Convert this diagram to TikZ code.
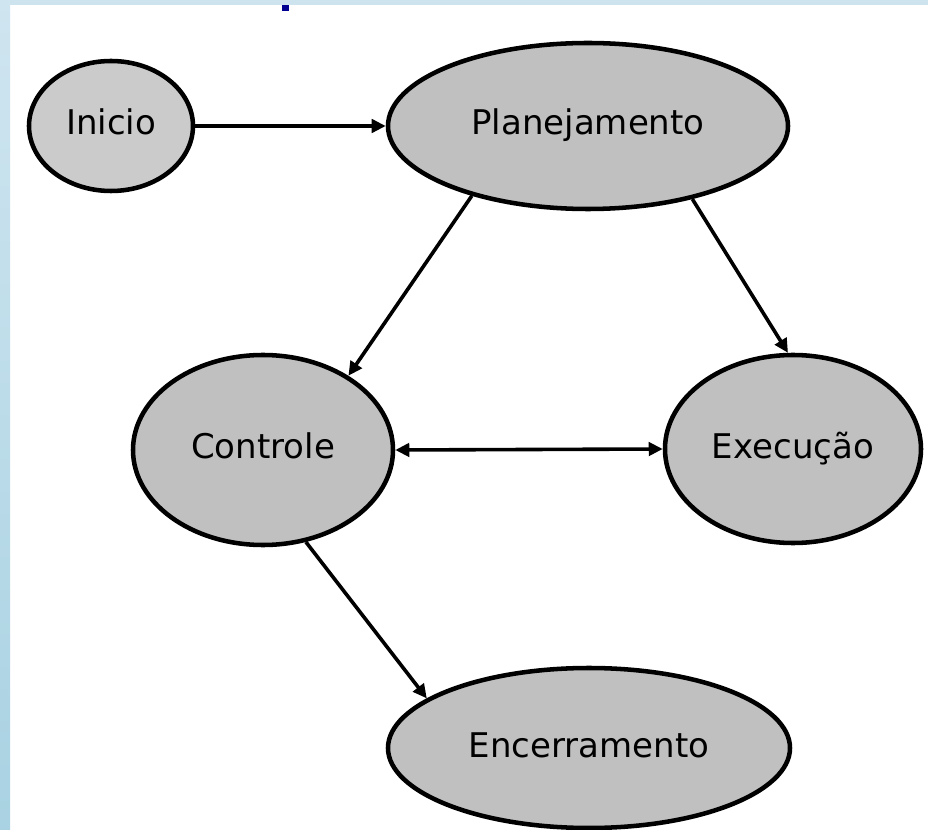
\documentclass[tikz,border=0pt]{standalone}
\usepackage{fontspec}
\setmainfont{DejaVu Sans}
\usetikzlibrary{shapes.geometric,arrows.meta}
\definecolor{nodefill}{HTML}{C0C0C0}
\definecolor{inifill}{HTML}{CBCBCB}
\definecolor{bandblue}{HTML}{CDE4EF}
\definecolor{striptop}{HTML}{CFE5F0}
\definecolor{stripmid}{HTML}{E2F1F9}
\definecolor{stripbot}{HTML}{A9D2E2}
\definecolor{markblue}{HTML}{000090}
\begin{document}
\begin{tikzpicture}[x=0.75pt,y=-0.75pt,
  proc/.style={ellipse, draw=black, line width=3.4pt, fill=nodefill, inner sep=0pt,
    font=\fontsize{25.5}{30}\selectfont, text height=18pt, text depth=4.5pt},
  conn/.style={line width=2.7pt, -{Triangle[length=10.5pt,width=10pt]}},
  biconn/.style={line width=2.7pt, {Triangle[length=10.5pt,width=10pt]}-{Triangle[length=10.5pt,width=10pt]}}
]
\useasboundingbox (0,0) rectangle (928,830);
\fill[white] (0,0) rectangle (928,830);
\fill[bandblue] (0,0) rectangle (928,5);
\shade[top color=striptop, middle color=stripmid, bottom color=stripbot] (0,0) rectangle (10,830);
\fill[markblue] (282,5) rectangle (289,11);

\node[proc, fill=inifill, minimum width=123pt, minimum height=97.5pt] (ini) at (111,126) {Inicio};
\node[proc, minimum width=300pt, minimum height=124.5pt] (plan) at (588,126) {Planejamento};
\node[proc, minimum width=195pt, minimum height=142.5pt] (ctrl) at (263,450) {Controle};
\node[proc, minimum width=192pt, minimum height=141pt] (exec) at (793,449) {Execução};
\node[proc, minimum width=301.5pt, minimum height=120pt] (enc) at (589,748) {Encerramento};

\draw[conn] (ini.east) -- (plan.west);
\draw[conn] (plan.211) -- (ctrl.41);
\draw[conn] (plan.325) -- (exec.93);
\draw[conn] (ctrl.295) -- (enc.163);
\draw[biconn] (ctrl.east) -- (exec.west);
\end{tikzpicture}
\end{document}
